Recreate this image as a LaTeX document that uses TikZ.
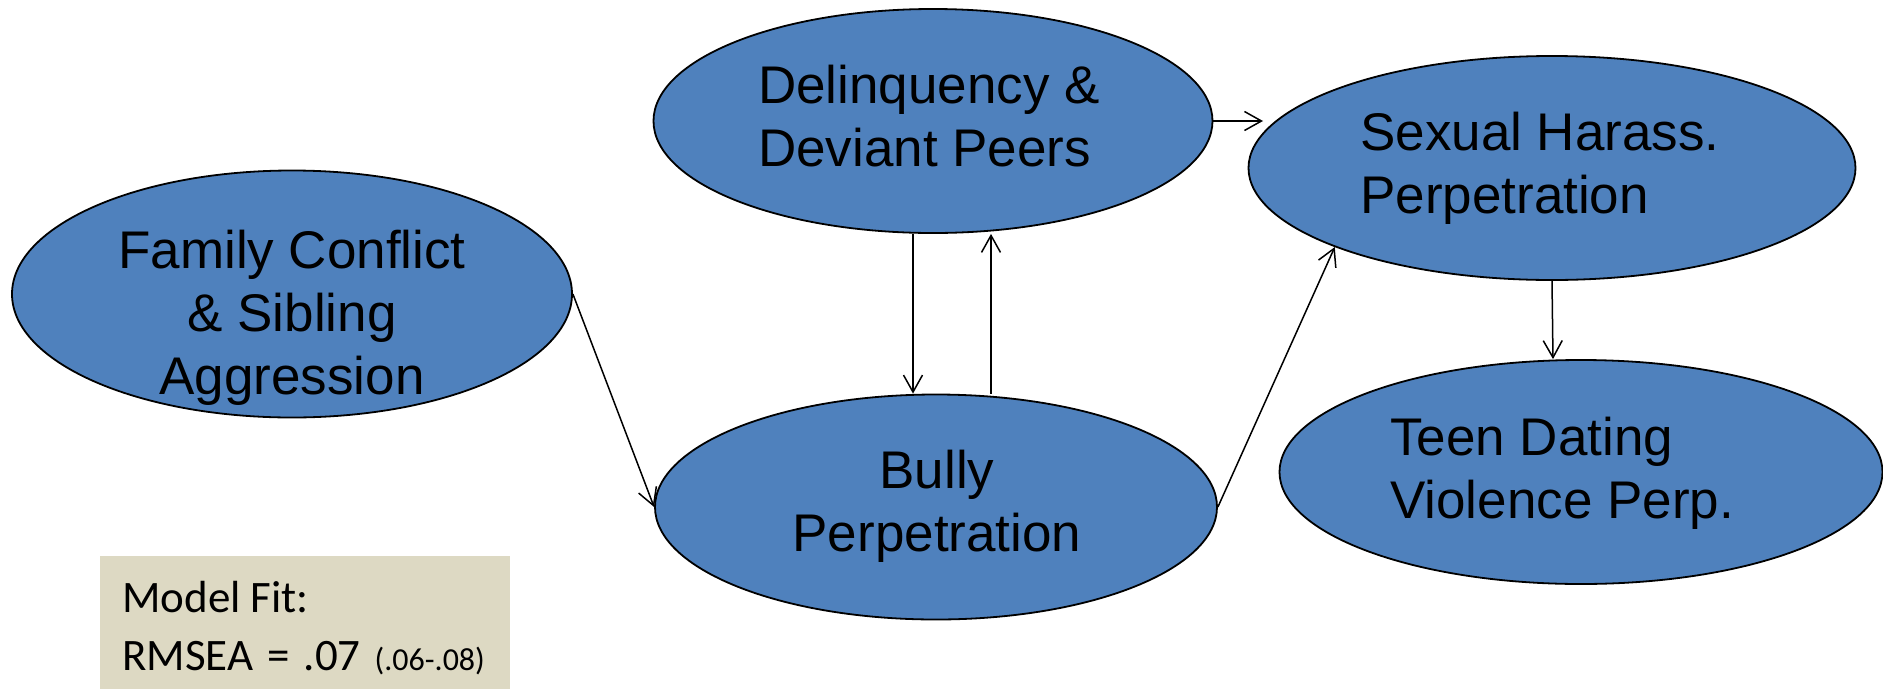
\documentclass[tikz,border=0pt]{standalone}
\usepackage{fontspec}
\setmainfont{Liberation Sans}
\newfontfamily\calfont{Carlito}
\usetikzlibrary{shapes.geometric,arrows.meta}
\definecolor{ovalblue}{HTML}{4F81BD}
\definecolor{fitbg}{HTML}{DDD9C3}
\begin{document}
\begin{tikzpicture}[x=1pt,y=-1pt,
  oval/.style={ellipse, draw=black, line width=1.8pt, fill=ovalblue, inner sep=0pt},
  lbl/.style={font=\fontsize{53}{63}\selectfont, inner sep=0pt},
  arr/.style={line width=1.5pt, -{Straight Barb[length=17pt,width=19pt,line width=1.5pt]}}]
\useasboundingbox (0,0) rectangle (1883,689);
% ellipses
\node[oval, minimum width=560pt, minimum height=247pt] (family) at (292,294) {};
\node[oval, minimum width=559pt, minimum height=224pt] (delin) at (933,121) {};
\node[oval, minimum width=607pt, minimum height=224pt] (sexual) at (1552,168) {};
\node[oval, minimum width=562pt, minimum height=225pt] (bully) at (936,507) {};
\node[oval, minimum width=603pt, minimum height=224pt] (teen) at (1581,472) {};
% labels
\node[lbl, anchor=base] (tfamily) at (292,268) {\begin{tabular}[t]{@{}c@{}}Family Conflict\\\& Sibling\\Aggression\end{tabular}};
\node[lbl, anchor=base west] (tdelin) at (758,103) {\begin{tabular}[t]{@{}l@{}}Delinquency \&\\Deviant Peers\end{tabular}};
\node[lbl, anchor=base west] (tsexual) at (1360,150) {\begin{tabular}[t]{@{}l@{}}Sexual Harass.\\Perpetration\end{tabular}};
\node[lbl, anchor=base] (tbully) at (937,488) {\begin{tabular}[t]{@{}c@{}}Bully\\Perpetration\end{tabular}};
\node[lbl, anchor=base west] (tteen) at (1390,455) {\begin{tabular}[t]{@{}l@{}}Teen Dating\\Violence Perp.\end{tabular}};
% model fit box
\node[fill=fitbg, inner sep=0pt, minimum width=410pt, minimum height=133pt, anchor=north west] (fitbox) at (100,556) {};
\node[anchor=base west, inner sep=0pt, font=\calfont\fontsize{45}{58}\selectfont] (fittext) at (122,612)
  {\begin{tabular}[t]{@{}l@{}}Model Fit:\\RMSEA\hspace{14pt}=\hspace{14pt}.07\hspace{14pt}{\fontsize{32}{38}\selectfont(.06-.08)}\end{tabular}};
% connectors
\coordinate (shtip) at (1263,121);
\draw[arr] (delin.east) -- (shtip);
\draw[arr] ([xshift=-20pt]delin.south) -- ([xshift=-23pt]bully.north);
\draw[arr] ([xshift=55pt]bully.north) -- ([xshift=58pt]delin.south);
\draw[arr] (family.east) -- (bully.west);
\draw[arr] (bully.east) -- (sexual.200);
\draw[arr] (sexual.south) -- ([xshift=-28pt]teen.north);
\end{tikzpicture}
\end{document}
